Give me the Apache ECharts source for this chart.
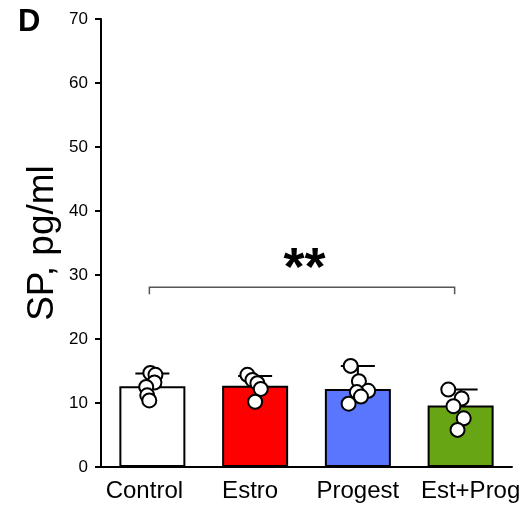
<!DOCTYPE html>
<html>
<head>
<meta charset="utf-8">
<script src="https://cdn.jsdelivr.net/npm/echarts@6/dist/echarts.min.js"></script>
<style>html,body{margin:0;padding:0;background:#fff}#c{width:531px;height:510px}</style>
</head>
<body>
<div id="c"></div>
<script>
var categories = ['Control', 'Estro', 'Progest', 'Est+Prog'];
var barMeans = [12.6, 12.7, 12.2, 9.6];
var errorUpper = [14.6, 14.2, 15.8, 12.1];
var barColors = ['#ffffff', '#ff0000', '#5a76ff', '#68a514'];
var pointsControl = [14.7, 14.4, 13.2, 12.5, 11.2, 10.4];
var pointsEstro = [14.4, 13.6, 13.1, 12.2, 10.2];
var pointsProgest = [15.8, 13.4, 11.9, 11.7, 11.0, 9.9];
var pointsEstProg = [12.1, 10.7, 9.5, 7.6, 5.8];
var jitterControl = [-0.02, 0.03, 0.02, -0.06, -0.05, -0.03];
var jitterEstro = [-0.075, -0.026, 0.022, 0.055, 0.0];
var jitterProgest = [-0.07, 0.01, 0.10, -0.01, 0.03, -0.09];
var jitterEstProg = [-0.12, 0.01, -0.07, 0.03, -0.03];
var yTicks = [0, 10, 20, 30, 40, 50, 60, 70];
var yAxisTitle = 'SP, pg/ml';
var bracket = { from: 0, to: 3, level: 28.1, foot: 27.0, label: '**', labelLevel: 30.8 };

var allPoints = [pointsControl, pointsEstro, pointsProgest, pointsEstProg];
var allJitter = [jitterControl, jitterEstro, jitterProgest, jitterEstProg];
var pointData = [];
allPoints.forEach(function (arr, ci) {
  arr.forEach(function (v, k) { pointData.push([ci, v, allJitter[ci][k]]); });
});

var labelFont = '"Liberation Sans", Arial, sans-serif';
var chart = echarts.init(document.getElementById('c'));
chart.setOption({
  animation: false,
  backgroundColor: '#fff',
  grid: { left: 101, right: 19, top: 19, bottom: 43 },
  graphic: [
    { type: 'text', left: 18, top: 7, style: { text: 'D', font: 'bold 31px ' + labelFont, fill: '#000' } },
    { type: 'text', x: 43, y: 243, rotation: Math.PI / 2,
      style: { text: yAxisTitle, font: '37px ' + labelFont, fill: '#000', textAlign: 'center', textVerticalAlign: 'middle' } }
  ],
  xAxis: {
    type: 'category',
    data: categories,
    axisLine: { lineStyle: { color: '#000', width: 2 } },
    axisTick: { show: false },
    axisLabel: {
      interval: 0,
      color: '#000', fontSize: 24, fontFamily: labelFont, margin: 12,
      formatter: function (v, i) { return '{l' + i + '|' + v + '}'; },
      rich: {
        l0: { fontSize: 24, fontFamily: labelFont, color: '#000', padding: [0, 16, 0, 0] },
        l1: { fontSize: 24, fontFamily: labelFont, color: '#000', padding: [0, 10, 0, 0] },
        l2: { fontSize: 24, fontFamily: labelFont, color: '#000', padding: [0, 0, 0, 0] },
        l3: { fontSize: 24, fontFamily: labelFont, color: '#000', padding: [0, 0, 0, 20] }
      }
    }
  },
  yAxis: {
    type: 'value',
    min: yTicks[0],
    max: yTicks[yTicks.length - 1],
    interval: 10,
    splitLine: { show: false },
    axisLine: { show: true, lineStyle: { color: '#000', width: 2 } },
    axisTick: { show: true, length: 6, lineStyle: { color: '#000', width: 2 } },
    axisLabel: { color: '#000', fontSize: 17, fontFamily: labelFont, margin: 13 }
  },
  series: [
    {
      type: 'bar',
      data: barMeans.map(function (v, i) { return { value: v, itemStyle: { color: barColors[i] } }; }),
      barWidth: 66,
      itemStyle: { borderColor: '#000', borderWidth: 2 },
      z: 2
    },
    {
      type: 'custom',
      z: 3,
      data: barMeans.map(function (v, i) { return [i, v, errorUpper[i]]; }),
      renderItem: function (params, api) {
        var p0 = api.coord([api.value(0), api.value(1)]);
        var p1 = api.coord([api.value(0), api.value(2)]);
        var half = 17;
        return {
          type: 'group',
          children: [
            { type: 'line', shape: { x1: p0[0], y1: p0[1], x2: p1[0], y2: p1[1] }, style: { stroke: '#000', lineWidth: 2 } },
            { type: 'line', shape: { x1: p1[0] - half, y1: p1[1], x2: p1[0] + half, y2: p1[1] }, style: { stroke: '#000', lineWidth: 2 } }
          ]
        };
      }
    },
    {
      type: 'custom',
      z: 4,
      data: pointData,
      renderItem: function (params, api) {
        var p = api.coord([api.value(0), api.value(1)]);
        var band = api.size([1, 0])[0];
        return {
          type: 'circle',
          shape: { cx: p[0] + api.value(2) * band, cy: p[1], r: 7 },
          style: { fill: '#fff', stroke: '#000', lineWidth: 2 }
        };
      }
    },
    {
      type: 'custom',
      z: 4,
      data: [[bracket.from, bracket.to, bracket.level, bracket.foot, bracket.labelLevel]],
      renderItem: function (params, api) {
        var a = api.coord([api.value(0), api.value(3)]);
        var b = api.coord([api.value(0), api.value(2)]);
        var c = api.coord([api.value(1), api.value(2)]);
        var d = api.coord([api.value(1), api.value(3)]);
        var t = api.coord([api.value(0), api.value(4)]);
        var t2 = api.coord([api.value(1), api.value(4)]);
        return {
          type: 'group',
          children: [
            { type: 'polyline', shape: { points: [[a[0] - 3, a[1]], [b[0] - 3, b[1]], [c[0] - 6, c[1]], [d[0] - 6, d[1]]] }, style: { stroke: '#555', lineWidth: 1.5, fill: null } },
            { type: 'text', style: { x: (t[0] + t2[0]) / 2 - 2, y: t[1], text: bracket.label, textAlign: 'center', textVerticalAlign: 'middle', font: 'bold 54px ' + labelFont, fill: '#000' } }
          ]
        };
      }
    }
  ]
});
</script>
</body>
</html>
